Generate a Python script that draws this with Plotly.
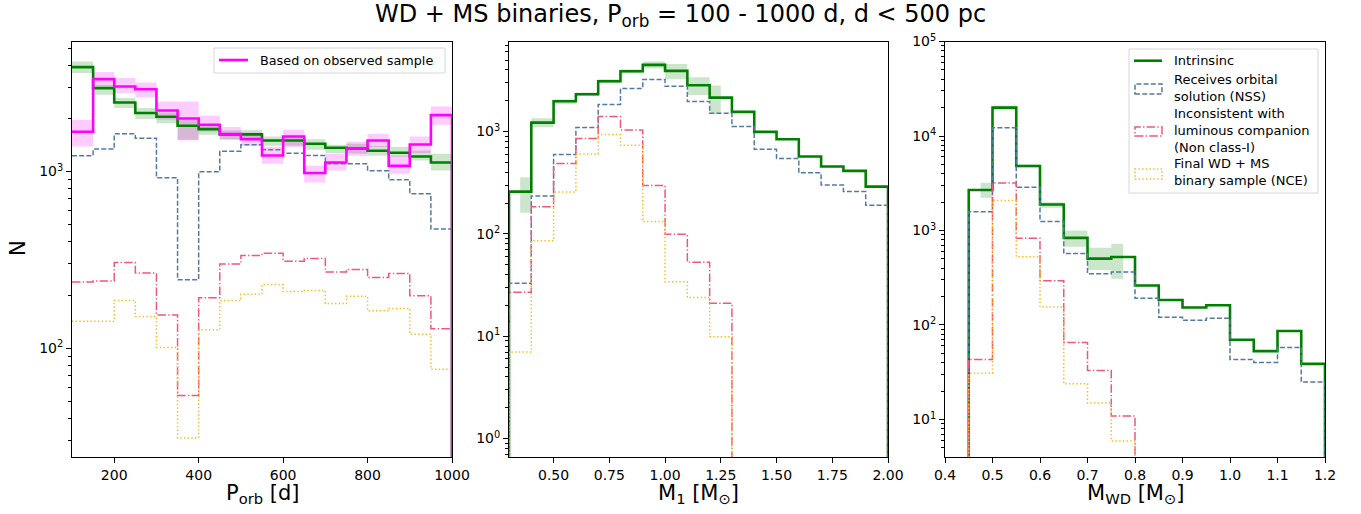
import numpy as np
import plotly.graph_objects as go

# ---------------- data ----------------
# Panel 1: P_orb bins (50 d wide, 100-1000 d)
porb_edges = [100, 150, 200, 250, 300, 350, 400, 450, 500, 550, 600, 650, 700, 750, 800, 850, 900, 950, 1000]
porb_intrinsic = [3900, 2965, 2460, 2143, 2042, 1815, 1738, 1622, 1622, 1499, 1499, 1435, 1362, 1350, 1310, 1276, 1216, 1125]
porb_intr_lo = [3606, 2716, 2286, 1982, 1879, 1513, 1615, 1525, 1513, 1400, 1400, 1327, 1271, 1262, 1227, 1212, 1154, 1014]
porb_intr_hi = [4199, 3097, 2606, 2286, 2142, 1963, 1840, 1707, 1720, 1581, 1581, 1525, 1417, 1435, 1400, 1375, 1316, 1260]
porb_observed = [1678, 3336, 3028, 2925, 2217, 1997, 1838, 1628, 1525, 1233, 1578, 980, 1125, 1350, 1499, 1077, 1422, 2085]
porb_obs_lo = [1387, 3034, 2782, 2637, 1963, 1500, 1685, 1513, 1400, 1107, 1375, 867, 1014, 1227, 1375, 971, 1271, 1840]
porb_obs_hi = [1963, 3654, 3380, 3193, 2489, 2489, 2066, 1784, 1665, 1375, 1722, 1077, 1260, 1472, 1634, 1228, 1581, 2335]
porb_nss = [1227, 1339, 1634, 1545, 921, 244, 996, 1303, 1416, 1327, 1270, 1233, 1106, 1106, 1009, 898, 748, 472]
porb_nonclass1 = [237, 240, 305, 266, 154, 54, 193, 300, 335, 345, 311, 322, 270, 279, 251, 265, 198, 129]
porb_nce = [142, 142, 186, 151, 101, 31, 127, 186, 202, 229, 209, 212, 179, 197, 163, 168, 120, 76]

# Panel 2: M1 bins (0.1 Msun wide)
m1_edges = [0.3, 0.4, 0.5, 0.6, 0.7, 0.8, 0.9, 1.0, 1.1, 1.2, 1.3, 1.4, 1.5, 1.6, 1.7, 1.8, 1.9, 2.0]
m1_intrinsic = [259, 1224, 1976, 2315, 3104, 3888, 4480, 3918, 2838, 2148, 1556, 993, 841, 570, 455, 413, 290]
m1_intr_lo = [161, 1103, 1863, 2233, 2966, 3716, 4130, 3243, 2278, 1476]
m1_intr_hi = [358, 1349, 2070, 2404, 3243, 4063, 4830, 4580, 3396, 2818]
m1_nss = [33, 235, 596, 1094, 1837, 2633, 3223, 2774, 1964, 1511, 1119, 671, 544, 395, 301, 259, 191]
m1_nonclass1 = [26.9, 184, 487, 855, 1402, 1038, 297, 99, 52.9, 21, 0, 0, 0, 0, 0, 0, 0]
m1_nce = [7.0, 85.5, 257, 605, 935, 735, 132, 34, 23.9, 9.9, 0, 0, 0, 0, 0, 0, 0]

# Panel 3: M_WD bins (0.05 Msun wide)
mwd_edges = [0.45, 0.5, 0.55, 0.6, 0.65, 0.7, 0.75, 0.8, 0.85, 0.9, 0.95, 1.0, 1.05, 1.1, 1.15, 1.2]
mwd_intrinsic = [2680, 19950, 4810, 1887, 836, 504, 525, 262, 184, 153, 162, 69.8, 52.9, 86.3, 38.8]
mwd_intr_lo = [2218, 19000, 4650, 1738, 672, 382, 308]
mwd_intr_hi = [3200, 21000, 5000, 1995, 1000, 655, 722]
mwd_nss = [1578, 12250, 2876, 1245, 570, 349, 363, 192, 121, 112, 118, 43.2, 40.1, 57.8, 24.9]
mwd_nonclass1 = [43.2, 3176, 830, 294, 65.4, 33, 10.9, 0, 0, 0, 0, 0, 0, 0, 0]
mwd_nce = [30.8, 2081, 526, 155, 23.9, 14.9, 5.93, 0, 0, 0, 0, 0, 0, 0, 0]

title_text = "WD + MS binaries, P<sub>orb</sub> = 100 - 1000 d, d < 500 pc"
xlabels = ["P<sub>orb</sub> [d]", "M<sub>1</sub> [M<sub>⊙</sub>]", "M<sub>WD</sub> [M<sub>⊙</sub>]"]
ylabel = "N"
legend1_labels = ["Based on observed sample"]
legend3_labels = ["Intrinsinc", "Receives orbital<br>solution (NSS)",
                  "Inconsistent with<br>luminous companion<br>(Non class-I)",
                  "Final WD + MS<br>binary sample (NCE)"]

# ---------------- styles ----------------
GREEN = "#008000"
MAGENTA = "#ff00ff"
BLUE = "#557aa2"
RED = "#ee5a7b"
YELLOW = "#ffb81c"
FONT = "DejaVu Sans"
FLOOR = 1e-3

DASH = "5px,2.2px"
DASHDOT = "8.5px,2.2px,1.4px,2.2px"
DOT = "1.4px,2.3px"

W, H = 1361, 514
fig = go.Figure()


def px(x):
    return x / W


def py(y):
    return 1 - y / H


def step_xy(edges, vals, left_drop=True):
    v = [val if val > 0 else FLOOR for val in vals]
    x = list(edges[:-1]) + [edges[-1], edges[-1]]
    y = v + [v[-1], FLOOR]
    if left_drop:
        x = [edges[0]] + x
        y = [FLOOR] + y
    return x, y


def band_xy(edges, lo, hi, half_ends):
    n = len(lo)
    xs, ylo, yhi = [], [], []
    for i in range(n):
        left, right = edges[i], edges[i + 1]
        if half_ends and i == 0:
            left = 0.5 * (edges[0] + edges[1])
        if half_ends and i == n - 1:
            right = 0.5 * (edges[i] + edges[i + 1])
        xs += [left, right]
        yhi += [hi[i], hi[i]]
        ylo += [lo[i], lo[i]]
    return xs + xs[::-1] + [xs[0]], yhi + ylo[::-1] + [yhi[0]]


def add_band(edges, lo, hi, color, ax, half_ends):
    x, y = band_xy(edges, lo, hi, half_ends)
    fig.add_trace(go.Scatter(x=x, y=y, mode="lines", fill="toself", fillcolor=color,
                             line=dict(width=0), hoverinfo="skip", showlegend=False,
                             xaxis="x" + ax, yaxis="y" + ax))


def add_step(edges, vals, color, width, dash, ax, left_drop=True):
    x, y = step_xy(edges, vals, left_drop)
    fig.add_trace(go.Scatter(x=x, y=y, mode="lines", line=dict(color=color, width=width, dash=dash, shape="hv"),
                             showlegend=False, xaxis="x" + ax, yaxis="y" + ax))


THIN = 1.5
THICK = 2.6

# panel 1
add_band(porb_edges, porb_intr_lo, porb_intr_hi, "rgba(0,128,0,0.2)", "", False)
add_band(porb_edges, porb_obs_lo, porb_obs_hi, "rgba(255,0,255,0.2)", "", False)
add_step(porb_edges, porb_intrinsic, GREEN, THICK, "solid", "", False)
add_step(porb_edges, porb_nss, BLUE, THIN, DASH, "", False)
add_step(porb_edges, porb_nonclass1, RED, THIN, DASHDOT, "", False)
add_step(porb_edges, porb_nce, YELLOW, THIN, DOT, "", False)
add_step(porb_edges, porb_observed, MAGENTA, THICK, "solid", "", False)

# panel 2
add_band(m1_edges, m1_intr_lo, m1_intr_hi, "rgba(0,128,0,0.2)", "2", True)
add_step(m1_edges, m1_intrinsic, GREEN, THICK, "solid", "2")
add_step(m1_edges, m1_nss, BLUE, THIN, DASH, "2")
add_step(m1_edges, m1_nonclass1, RED, THIN, DASHDOT, "2")
add_step(m1_edges, m1_nce, YELLOW, THIN, DOT, "2")

# panel 3
add_band(mwd_edges, mwd_intr_lo, mwd_intr_hi, "rgba(0,128,0,0.2)", "3", True)
add_step(mwd_edges, mwd_intrinsic, GREEN, THICK, "solid", "3")
add_step(mwd_edges, mwd_nss, BLUE, THIN, DASH, "3")
add_step(mwd_edges, mwd_nonclass1, RED, THIN, DASHDOT, "3")
add_step(mwd_edges, mwd_nce, YELLOW, THIN, DOT, "3")

# ---------------- axes ----------------
ydom = [py(457), py(41.5)]
xdoms = [[px(72), px(452)], [px(509), px(888)], [px(945), px(1325)]]

common = dict(showline=True, mirror=True, linecolor="black", linewidth=1, showgrid=False,
              zeroline=False, ticks="outside", ticklen=5, tickwidth=1, tickcolor="black",
              automargin=False,
              tickfont=dict(family=FONT, size=14, color="black"))


def ylog(rng, decades):
    return dict(common, type="log", range=rng, domain=ydom, tickmode="array",
                tickvals=[10 ** d for d in decades],
                ticktext=["10<sup>%d</sup>" % d for d in decades],
                minor=dict(ticks="outside", ticklen=2.8, tickwidth=0.8, tickcolor="black", dtick="D1", showgrid=False))


fig.update_layout(
    template="none",
    width=W, height=H, margin=dict(l=0, r=0, t=0, b=0, autoexpand=False),
    paper_bgcolor="white", plot_bgcolor="white", showlegend=False,
    xaxis=dict(common, domain=xdoms[0], range=[100, 1000], tickmode="array",
               tickvals=[200, 400, 600, 800, 1000], anchor="y"),
    yaxis=dict(ylog([1.384, 3.736], [2, 3]), anchor="x"),
    xaxis2=dict(common, domain=xdoms[1], range=[0.3, 2.0], tickmode="array",
                tickvals=[0.5, 0.75, 1.0, 1.25, 1.5, 1.75, 2.0],
                ticktext=["0.50", "0.75", "1.00", "1.25", "1.50", "1.75", "2.00"], anchor="y2"),
    yaxis2=dict(ylog([-0.18, 3.88], [0, 1, 2, 3]), anchor="x2"),
    xaxis3=dict(common, domain=xdoms[2], range=[0.4, 1.2], tickmode="array",
                tickvals=[0.4, 0.5, 0.6, 0.7, 0.8, 0.9, 1.0, 1.1, 1.2],
                ticktext=["0.4", "0.5", "0.6", "0.7", "0.8", "0.9", "1.0", "1.1", "1.2"], anchor="y3"),
    yaxis3=dict(ylog([0.603, 5.0], [1, 2, 3, 4, 5]), anchor="x3"),
)

# ---------------- text ----------------
ann = []
ann.append(dict(text=title_text, x=px(680.5), y=py(15), xref="paper", yref="paper",
                xanchor="center", yanchor="middle", showarrow=False,
                font=dict(family=FONT, size=24, color="black")))
centers = [(72 + 452) / 2, (509 + 888) / 2, (945 + 1325) / 2]
for cx, lab in zip(centers, xlabels):
    ann.append(dict(text=lab, x=px(cx), y=py(494), xref="paper", yref="paper",
                    xanchor="center", yanchor="middle", showarrow=False,
                    font=dict(family=FONT, size=21, color="black")))
ann.append(dict(text=ylabel, x=px(18), y=py(248), xref="paper", yref="paper", textangle=-90,
                xanchor="center", yanchor="middle", showarrow=False,
                font=dict(family=FONT, size=21, color="black")))

shapes = []

# legend panel 1
shapes.append(dict(type="rect", xref="paper", yref="paper", x0=px(214), x1=px(445), y0=py(73), y1=py(48),
                   line=dict(color="#d6d6d6", width=1), fillcolor="rgba(255,255,255,0.85)"))
shapes.append(dict(type="line", xref="paper", yref="paper", x0=px(219), x1=px(248), y0=py(60), y1=py(60),
                   line=dict(color=MAGENTA, width=THICK)))
ann.append(dict(text=legend1_labels[0], x=px(258), y=py(60.5), xref="paper", yref="paper",
                xanchor="left", yanchor="middle", showarrow=False,
                font=dict(family=FONT, size=12.8, color="black")))

# legend panel 3
shapes.append(dict(type="rect", xref="paper", yref="paper", x0=px(1129), x1=px(1318), y0=py(193), y1=py(49),
                   line=dict(color="#d6d6d6", width=1), fillcolor="rgba(255,255,255,0.85)"))
shapes.append(dict(type="line", xref="paper", yref="paper", x0=px(1134), x1=px(1162), y0=py(60.7), y1=py(60.7),
                   line=dict(color=GREEN, width=THICK)))
handle_specs = [(BLUE, DASH, 84, 94), (RED, DASHDOT, 127, 136), (YELLOW, DOT, 169, 179)]
for col, dsh, y0, y1 in handle_specs:
    shapes.append(dict(type="rect", xref="paper", yref="paper", x0=px(1135), x1=px(1162), y0=py(y1), y1=py(y0),
                       line=dict(color=col, width=THIN, dash=dsh), fillcolor="rgba(0,0,0,0)"))
text_centers = [60.7, 88, 130, 172.5]
for lab, yc in zip(legend3_labels, text_centers):
    ann.append(dict(text=lab, x=px(1172), y=py(yc), xref="paper", yref="paper",
                    xanchor="left", yanchor="middle", align="left", showarrow=False,
                    font=dict(family=FONT, size=13, color="black")))

fig.update_layout(annotations=ann, shapes=shapes)
fig.write_html("out.html", config={"displayModeBar": False},
               post_script="document.body.style.margin='0';document.body.style.overflow='hidden';")
